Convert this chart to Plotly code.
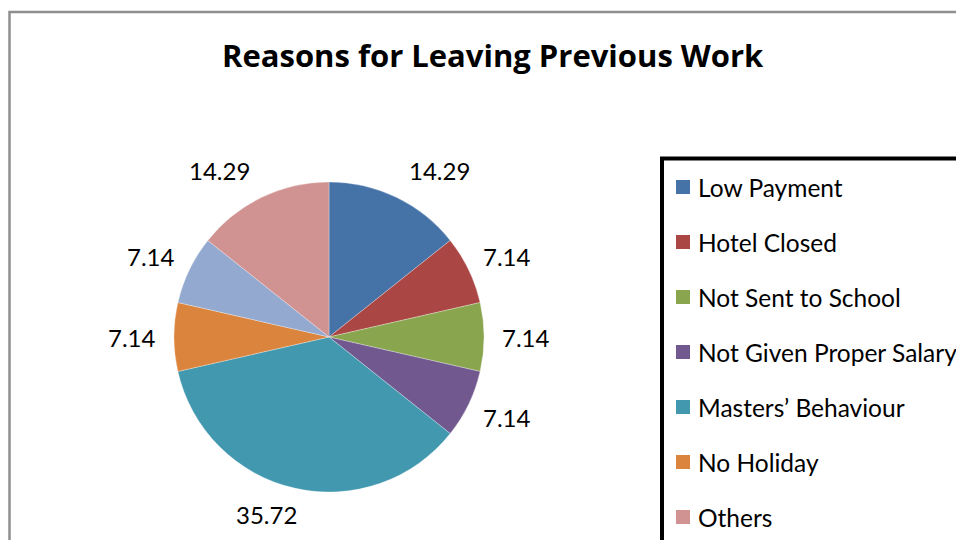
import math
import plotly.graph_objects as go

W, H = 956, 540

# Data
categories = ["Low Payment", "Hotel Closed", "Not Sent to School",
              "Not Given Proper Salary", "Masters\u2019 Behaviour",
              "No Holiday", "(unlabelled)", "Others"]
percentages = [14.29, 7.14, 7.14, 7.14, 35.72, 7.14, 7.14, 14.29]
colors = ["#4572A7", "#AA4643", "#89A54E", "#71588F",
          "#4198AF", "#DB843D", "#93A9CF", "#D19392"]
legend_entries = ["Low Payment", "Hotel Closed", "Not Sent to School",
                  "Not Given Proper Salary", "Masters\u2019 Behaviour",
                  "No Holiday", "Others"]

FONT = "Lato"
TITLE_FONT = "Open Sans"


def px(x):
    return x / W


def py(y):
    return 1 - y / H


# pie geometry (pixels)
CX, CY, R = 329, 337, 155

fig = go.Figure()
fig.add_trace(go.Pie(
    labels=categories,
    values=percentages,
    sort=False,
    direction="clockwise",
    rotation=0,
    marker=dict(colors=colors, line=dict(color="rgba(255,255,255,0.5)", width=0.6)),
    textinfo="none",
    hoverinfo="label+value",
    showlegend=False,
    domain=dict(x=[px(CX - R), px(CX + R)], y=[py(CY + R), py(CY - R)]),
))

# value labels placed round the pie at each slice's mid-angle
LRX, LRY = 197, 185
label_nudge = [(25, 0), (0, 0), (0, 0), (0, 0), (-19, -3), (0, 0), (0, 0), (-24, 0)]  # px
total = sum(percentages)
cum = 0.0
annotations = []
for v, (dx, dy) in zip(percentages, label_nudge):
    mid = (cum + v / 2) / total * 2 * math.pi
    cum += v
    lx = CX + LRX * math.sin(mid) + dx
    ly = CY - LRY * math.cos(mid) + dy
    annotations.append(dict(
        x=px(lx), y=py(ly), xref="paper", yref="paper",
        text=f"{v:.2f}", showarrow=False,
        xanchor="center", yanchor="middle",
        font=dict(family=FONT, size=24, color="black"),
    ))

# title
annotations.append(dict(
    x=px(493), y=py(55), xref="paper", yref="paper",
    text="<b>Reasons for Leaving Previous Work</b>", showarrow=False,
    xanchor="center", yanchor="middle",
    font=dict(family=TITLE_FONT, size=31, color="black"),
))

shapes = [
    # chart area border
    dict(type="rect", xref="paper", yref="paper",
         x0=px(9.5), y0=py(12), x1=px(W + 40), y1=py(H + 40),
         line=dict(color="#8f8f8f", width=2.5), fillcolor="rgba(0,0,0,0)"),
    # legend frame
    dict(type="rect", xref="paper", yref="paper",
         x0=px(662), y0=py(158.5), x1=px(W + 40), y1=py(H + 40),
         line=dict(color="black", width=4), fillcolor="white"),
]

# legend keys and names
for i, name in enumerate(legend_entries):
    yc = 187 + 55 * i
    col = colors[categories.index(name)]
    shapes.append(dict(type="rect", xref="paper", yref="paper",
                       x0=px(676), x1=px(690), y0=py(yc - 7), y1=py(yc + 7),
                       line=dict(width=0), fillcolor=col))
    annotations.append(dict(
        x=px(696), y=py(yc), xref="paper", yref="paper",
        text=name, showarrow=False, xanchor="left", yanchor="middle",
        font=dict(family=FONT, size=24.5, color="black"),
    ))

fig.update_layout(
    width=W, height=H,
    margin=dict(l=0, r=0, t=0, b=0),
    paper_bgcolor="white",
    plot_bgcolor="white",
    shapes=shapes,
    annotations=annotations,
)

fig.write_html("out.html")
